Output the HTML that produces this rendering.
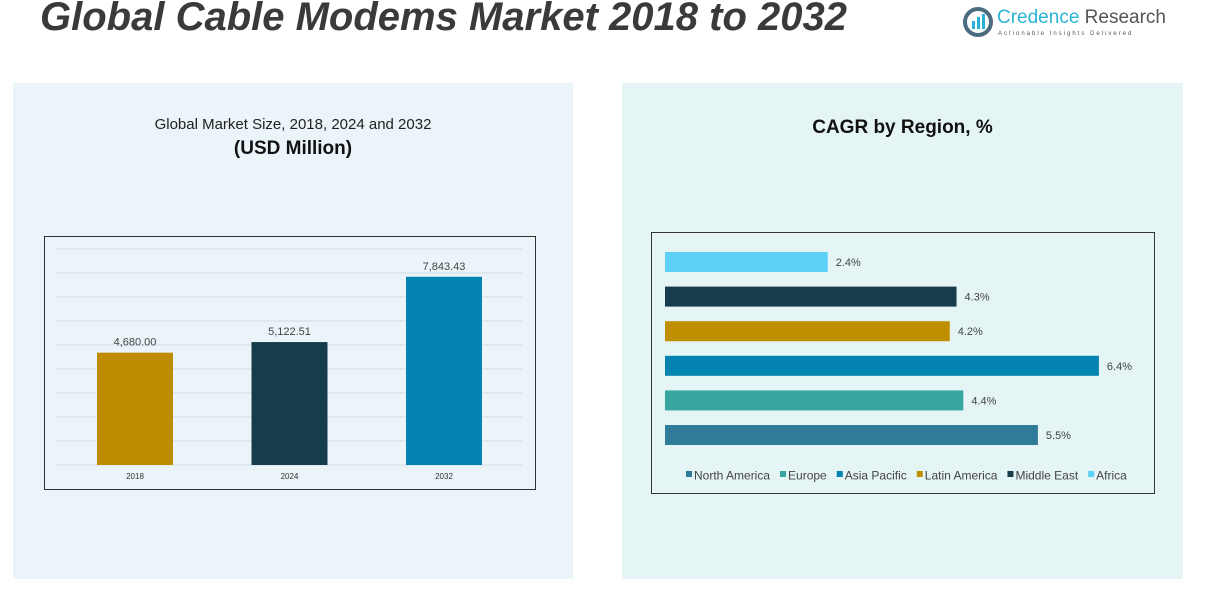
<!DOCTYPE html>
<html><head><meta charset="utf-8"><style>
body{margin:0;width:1213px;height:610px;background:#fff;font-family:"Liberation Sans",sans-serif;position:relative;overflow:hidden}
.title{position:absolute;left:40px;top:-5px;font-size:40px;font-weight:bold;font-style:italic;color:#3a3a3a;white-space:nowrap}
.panel{position:absolute;top:83px;height:496px}
</style></head><body>
<div class="title">Global Cable Modems Market 2018 to 2032</div>
<div style="position:absolute;left:962px;top:6px;width:220px;height:32px;white-space:nowrap">
<svg width="34" height="32" style="position:absolute;left:0;top:0"><circle cx="16" cy="16" r="13" fill="none" stroke="#4b6b80" stroke-width="4"/><rect x="10" y="15" width="3" height="8" fill="#27b1d6"/><rect x="15" y="11" width="3" height="12" fill="#27b1d6"/><rect x="20" y="8" width="3" height="15" fill="#27b1d6"/></svg>
<div style="position:absolute;left:35px;top:1px;font-size:19px;color:#555;white-space:nowrap"><span style="color:#2ab3d3">Credence</span> Research</div>
<div style="position:absolute;left:36px;top:25px;font-size:6px;letter-spacing:2px;color:#555;white-space:nowrap">Actionable Insights Delivered</div>
</div>
<div class="panel" style="left:13px;width:560px;background:#eaf4f9"></div>
<div class="panel" style="left:622px;width:561px;background:#e5f4f5"></div>
<div style="position:absolute;left:13px;width:560px;top:116px;text-align:center;font-size:15px;color:#222">Global Market Size, 2018, 2024 and 2032</div>
<div style="position:absolute;left:13px;width:560px;top:138px;text-align:center;font-size:19px;font-weight:bold;color:#111">(USD Million)</div>
<div style="position:absolute;left:622px;width:561px;top:117px;text-align:center;font-size:19px;font-weight:bold;color:#111">CAGR by Region, %</div>
<svg id="bar" style="position:absolute;left:0;top:0" width="1213" height="610"></svg>
<script>
const years=["2018","2024","2032"];
const sizes=[4680.00,5122.51,7843.43];
const sizeLabels=["4,680.00","5,122.51","7,843.43"];
const sizeColors=["#bf8b00","#173d4c","#0383b1"];
const regions=["Africa","Middle East","Latin America","Asia Pacific","Europe","North America"];
const cagr=[2.4,4.3,4.2,6.4,4.4,5.5];
const regionColors=["#5dd0f6","#173c4b","#bf8f00","#0383b0","#37a6a1","#2e7c9a"];
const legendOrder=["North America","Europe","Asia Pacific","Latin America","Middle East","Africa"];
const NS="http://www.w3.org/2000/svg";
const svg=document.getElementById('bar');
function mk(t,a,txt){const e=document.createElementNS(NS,t);for(const k in a)e.setAttribute(k,a[k]);if(txt!==undefined)e.textContent=txt;svg.appendChild(e);return e;}
let f=mk('rect',{x:44.5,y:236.5,width:491,height:253,fill:'none',stroke:'#333','stroke-width':1});


const y0=465,ppu=216/9000;
const yS=v=>y0-v*ppu;
for(let g=0;g<=9;g++){const l=mk('line',{x1:57,x2:522,y1:yS(g*1000),y2:yS(g*1000),stroke:'#d4dde2','stroke-width':1});

}
const xS=i=>97+i*154.5;
years.forEach((yr,i)=>{
 const r=mk('rect',{x:xS(i),y:yS(sizes[i]),width:76,height:sizes[i]*ppu,fill:sizeColors[i]});
 
 
 const t=mk('text',{x:xS(i)+38,y:yS(sizes[i])-7,'text-anchor':'middle','font-size':11,fill:'#444'},sizeLabels[i]);
 
 
 const x=mk('text',{x:xS(i)+38,y:479,'text-anchor':'middle','font-size':8,fill:'#333'},yr);
 
 
});
f=mk('rect',{x:651.5,y:232.5,width:503,height:261,fill:'none',stroke:'#333','stroke-width':1});


const ppp=67.8;
regions.forEach((rg,i)=>{
 const cy=262+i*34.6;
 const r=mk('rect',{x:665,y:cy-10,width:cagr[i]*ppp,height:20,fill:regionColors[i]});
 
 
 const t=mk('text',{x:665+cagr[i]*ppp+8,y:cy+4,'font-size':11,fill:'#444'},cagr[i].toFixed(1)+'%');
 
 
});
let lx=686;
legendOrder.forEach(n=>{
 const c=regionColors[regions.indexOf(n)];
 const s=mk('rect',{x:lx,y:471,width:6,height:6,fill:c});
 
 
 const t=mk('text',{x:lx+8,y:479.5,'font-size':12,fill:'#444'},n);
 
 
 lx+=8+t.getComputedTextLength()+10;
});
</script>
</body></html>
